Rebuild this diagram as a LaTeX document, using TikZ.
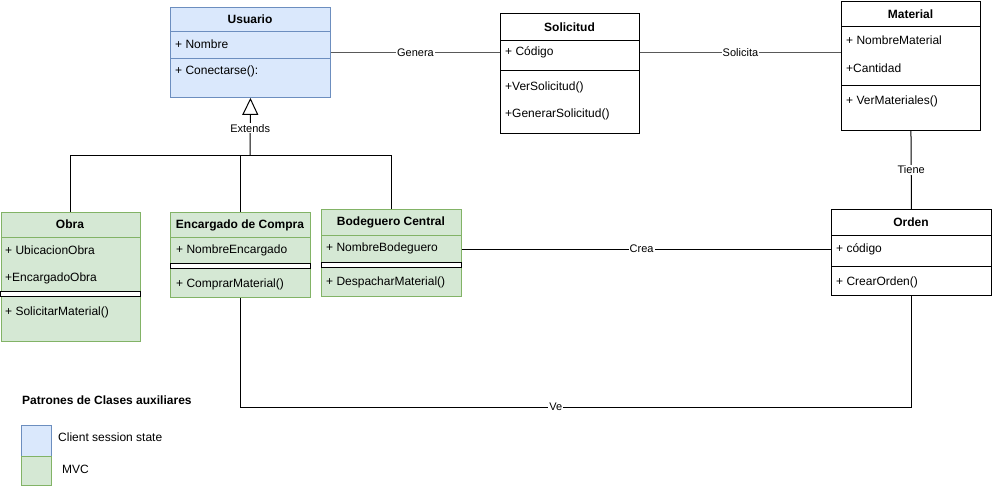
\documentclass[tikz,border=0pt]{standalone}
\usepackage{fontspec}
\setmainfont{Liberation Sans}
\usetikzlibrary{arrows.meta}

\definecolor{ssfill}{HTML}{DAE8FC}
\definecolor{ssline}{HTML}{6C8EBF}
\definecolor{mvcfill}{HTML}{D5E8D4}
\definecolor{mvcline}{HTML}{82B366}

\begin{document}
\begin{tikzpicture}[x=1pt, y=-1pt, every node/.style={font=\fontsize{12}{14}\selectfont}]
  % -----------------------------
  % STYLES
  % -----------------------------
  \tikzset{
    cls/.style={draw=black, fill=white, anchor=north west, inner sep=0pt, line width=0.9pt},
    clsss/.style={cls, draw=ssline, fill=ssfill},   % client session state
    clsmvc/.style={cls, draw=mvcline, fill=mvcfill}, % MVC
    ttl/.style={font=\bfseries\fontsize{12}{14}\selectfont, inner sep=0pt},
    mem/.style={anchor=west, inner sep=0pt},
    sep/.style={line width=0.9pt},
    dsep/.style={line width=0.9pt, fill=white},
    elab/.style={fill=white, inner sep=1pt, font=\fontsize{11}{13}\selectfont},
    conn/.style={draw=black, line width=1pt},
  }

  \useasboundingbox (0,0) rectangle (992,486);

  % -----------------------------
  % USUARIO
  % -----------------------------
  \node[clsss, minimum width=160pt, minimum height=90pt] (usuario) at (170,7) {};
  \node[ttl] (usuario-t) at (250,19) {Usuario};
  \draw[sep, ssline] (usuario.west |- 0,31) -- (usuario.east |- 0,31);
  \draw[sep, ssline] (usuario.west |- 0,58) -- (usuario.east |- 0,58);
  \foreach \yy/\txt [count=\k] in {44/{+ Nombre}, 71/{+ Conectarse():}}
    \node[mem] (usuario-\k) at (175,\yy) {\txt};

  % -----------------------------
  % SOLICITUD
  % -----------------------------
  \node[cls, minimum width=139pt, minimum height=120pt] (solicitud) at (500,13) {};
  \node[ttl] (solicitud-t) at (569.5,27) {Solicitud};
  \draw[sep] (solicitud.west |- 0,40) -- (solicitud.east |- 0,40);
  \draw[sep] (solicitud.west |- 0,70) -- (solicitud.east |- 0,70);
  \foreach \yy/\txt [count=\k] in {52/{+ Código}, 87/{+VerSolicitud()}, 114/{+GenerarSolicitud()}}
    \node[mem] (solicitud-\k) at (505,\yy) {\txt};

  % -----------------------------
  % MATERIAL
  % -----------------------------
  \node[cls, minimum width=139pt, minimum height=129pt] (material) at (841,1) {};
  \node[ttl] (material-t) at (910.5,14) {Material};
  \draw[sep] (material.west |- 0,26) -- (material.east |- 0,26);
  \draw[sep] (material.west |- 0,85) -- (material.east |- 0,85);
  \foreach \yy/\txt [count=\k] in {40/{+ NombreMaterial}, 68/{+Cantidad}, 101/{+ VerMateriales()}}
    \node[mem] (material-\k) at (846,\yy) {\txt};

  % -----------------------------
  % ORDEN
  % -----------------------------
  \node[cls, minimum width=160pt, minimum height=86pt] (orden) at (831,209) {};
  \node[ttl] (orden-t) at (911,222) {Orden};
  \draw[sep] (orden.west |- 0,235) -- (orden.east |- 0,235);
  \draw[sep] (orden.west |- 0,266) -- (orden.east |- 0,266);
  \foreach \yy/\txt [count=\k] in {249/{+ código}, 282/{+ CrearOrden()}}
    \node[mem] (orden-\k) at (836,\yy) {\txt};

  % -----------------------------
  % OBRA
  % -----------------------------
  \node[clsmvc, minimum width=139.5pt, minimum height=129pt] (obra) at (0.5,212) {};
  \node[ttl] (obra-t) at (70,224) {Obra};
  \draw[sep, mvcline] (obra.west |- 0,237) -- (obra.east |- 0,237);
  \draw[dsep] (obra.west |- 0,291.5) rectangle (obra.east |- 0,296.5);
  \foreach \yy/\txt [count=\k] in {250/{+ UbicacionObra}, 278/{+EncargadoObra}, 312/{+ SolicitarMaterial()}}
    \node[mem] (obra-\k) at (5,\yy) {\txt};

  % -----------------------------
  % ENCARGADO DE COMPRA
  % -----------------------------
  \node[clsmvc, minimum width=140pt, minimum height=85pt] (enc) at (170,212) {};
  \node[ttl] (enc-t) at (240,225) {Encargado de Compra};
  \draw[sep, mvcline] (enc.west |- 0,237) -- (enc.east |- 0,237);
  \draw[dsep] (enc.west |- 0,263) rectangle (enc.east |- 0,268);
  \foreach \yy/\txt [count=\k] in {250/{+ NombreEncargado}, 284/{+ ComprarMaterial()}}
    \node[mem] (enc-\k) at (176,\yy) {\txt};

  % -----------------------------
  % BODEGUERO CENTRAL
  % -----------------------------
  \node[clsmvc, minimum width=140pt, minimum height=87pt] (bode) at (321,209) {};
  \node[ttl] (bode-t) at (391,222) {Bodeguero Central};
  \draw[sep, mvcline] (bode.west |- 0,235) -- (bode.east |- 0,235);
  \draw[dsep] (bode.west |- 0,262) rectangle (bode.east |- 0,267);
  \foreach \yy/\txt [count=\k] in {248/{+ NombreBodeguero}, 282/{+ DespacharMaterial()}}
    \node[mem] (bode-\k) at (326,\yy) {\txt};

  % -----------------------------
  % GENERALIZATION (Extends)
  % -----------------------------
  \coordinate (gbar) at (250,155.5);
  \draw[conn] (obra.north) |- (gbar) -| (bode.north);
  \draw[conn] (enc.north) -- (enc.north |- gbar);
  \draw[conn, -{Triangle[open, width=16pt, length=17pt]}] (gbar)
    -- node[elab, pos=0.47] (ext) {Extends} (usuario.south);

  % -----------------------------
  % ASSOCIATIONS
  % -----------------------------
  \draw[conn, draw=black!65] (usuario.east |- 0,53) -- node[elab] (genera) {Genera} (solicitud.west |- 0,53);
  \draw[conn, draw=black!65] (solicitud.east |- 0,53) -- node[elab] (solicita) {Solicita} (material.west |- 0,53);
  \draw[conn] (material.south) -- node[elab] (tiene) {Tiene} (orden.north);
  \draw[conn] (bode.east |- 0,249) -- node[elab, pos=0.487] (crea) {Crea} (orden.west |- 0,249);
  \draw[conn] (enc.south) -- (enc.south |- 0,407)
    -- node[elab, pos=0.47] (ve) {Ve} (orden.south |- 0,407) -- (orden.south);

  % -----------------------------
  % LEGEND
  % -----------------------------
  \node[mem, font=\bfseries\fontsize{12}{14}\selectfont] (leg-t) at (22,400) {Patrones de Clases auxiliares};
  \draw[line width=0.9pt, draw=ssline, fill=ssfill] (21,425) rectangle (51,456);
  \draw[line width=0.9pt, draw=mvcline, fill=mvcfill] (21,456) rectangle (51,485.5);
  \node[mem] (leg-ss) at (58,437) {Client session state};
  \node[mem] (leg-mvc) at (62,469) {MVC};
\end{tikzpicture}
\end{document}
